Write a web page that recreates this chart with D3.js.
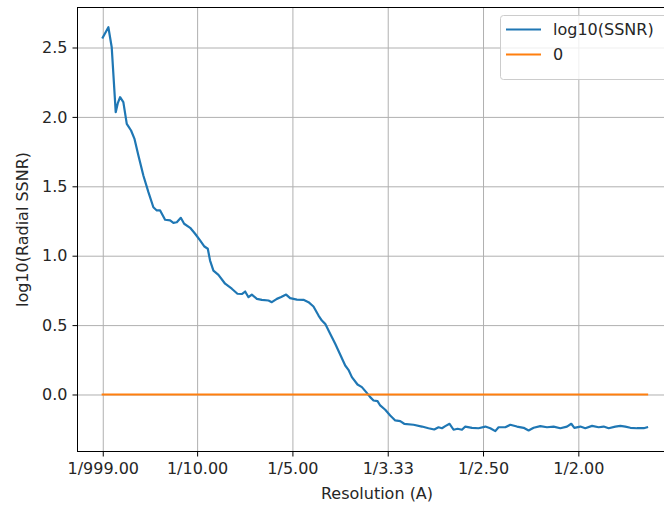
<!DOCTYPE html>
<html>
<head>
<meta charset="utf-8">
<script src="https://cdn.jsdelivr.net/npm/d3@7"></script>
<style>
  html, body { margin: 0; padding: 0; background: #fff; }
  svg { display: block; font-family: "DejaVu Sans", sans-serif; }
</style>
</head>
<body>
<svg id="chart" width="664" height="506"></svg>
<script>
// ---- data (spatial frequency 1/A, log10 radial SSNR) ----
const frequency = [0.001,0.0069,0.0104,0.0146,0.0167,0.0192,0.0226,0.0262,0.0307,0.0342,
  0.0384,0.0436,0.0489,0.0541,0.0577,0.0612,0.0664,0.0717,0.0751,0.0787,
  0.0829,0.0864,0.0927,0.0979,0.1031,0.1077,0.1112,0.1136,0.1171,0.1224,
  0.1294,0.1364,0.1423,0.1469,0.1504,0.1539,0.1574,0.1627,0.1679,0.1749,
  0.1784,0.1837,0.1882,0.1934,0.1976,0.2047,0.2116,0.2169,0.2221,0.2274,
  0.2309,0.2344,0.2396,0.2449,0.2501,0.2554,0.2588,0.2624,0.2683,0.2729,
  0.2774,0.2816,0.2851,0.2893,0.2921,0.2974,0.3026,0.3079,0.3131,0.3173,
  0.3271,0.3359,0.3428,0.3488,0.3533,0.3569,0.3604,0.3649,0.3691,0.3733,
  0.3779,0.3814,0.3884,0.3953,0.4024,0.4076,0.4129,0.4163,0.4234,0.4286,
  0.4356,0.4426,0.4478,0.4531,0.4601,0.4671,0.4741,0.4811,0.4881,0.4926,
  0.4958,0.5021,0.5073,0.5144,0.5213,0.5266,0.5318,0.5388,0.5441,0.5493,
  0.5546,0.5616,0.5686,0.5721];
const log10SSNR = [2.572,2.646,2.502,2.034,2.097,2.142,2.106,1.950,1.902,1.844,
  1.722,1.578,1.458,1.349,1.326,1.326,1.259,1.254,1.237,1.241,
  1.273,1.230,1.201,1.158,1.110,1.066,1.050,0.965,0.893,0.862,
  0.798,0.762,0.726,0.724,0.742,0.701,0.720,0.689,0.682,0.677,
  0.665,0.689,0.702,0.720,0.694,0.684,0.682,0.665,0.634,0.569,
  0.533,0.509,0.437,0.365,0.288,0.209,0.178,0.125,0.072,0.053,
  0.017,-0.019,-0.043,-0.048,-0.079,-0.110,-0.151,-0.187,-0.192,-0.211,
  -0.218,-0.231,-0.243,-0.252,-0.236,-0.243,-0.228,-0.211,-0.254,-0.247,
  -0.254,-0.231,-0.240,-0.243,-0.231,-0.243,-0.264,-0.236,-0.236,-0.218,
  -0.231,-0.240,-0.259,-0.240,-0.228,-0.236,-0.231,-0.243,-0.231,-0.211,
  -0.240,-0.231,-0.243,-0.226,-0.236,-0.231,-0.243,-0.231,-0.226,-0.231,
  -0.240,-0.243,-0.243,-0.236];
const zeroLine = frequency.map(() => 0);
const seriesNames = ["log10(SSNR)", "0"];
const xTickValues = [0.001, 0.1, 0.2, 0.3, 0.4, 0.5];
const xTickLabels = ["1/999.00", "1/10.00", "1/5.00", "1/3.33", "1/2.50", "1/2.00"];
const yTickValues = [0, 0.5, 1.0, 1.5, 2.0, 2.5];
const yTickLabels = ["0.0", "0.5", "1.0", "1.5", "2.0", "2.5"];
const xLabel = "Resolution (A)";
const yLabel = "log10(Radial SSNR)";

// ---- layout ----
const mLeft = 77.5, mRight = 676.5, mTop = 7.5, mBottom = 451.5;
const colors = ["#1f77b4", "#ff7f0e"];
const FS = 16;

const svg = d3.select("#chart");
const x = d3.scaleLinear().domain([-0.0255, 0.6030]).range([mLeft, mRight]);
const y = d3.scaleLinear().domain([-0.4107, 2.7882]).range([mBottom, mTop]);

// grid
const gx = svg.append("g").attr("transform", `translate(0,${mBottom})`)
  .call(d3.axisBottom(x).tickValues(xTickValues).tickSize(-(mBottom - mTop)).tickFormat(""));
const gy = svg.append("g").attr("transform", `translate(${mLeft},0)`)
  .call(d3.axisLeft(y).tickValues(yTickValues).tickSize(-(mRight - mLeft)).tickFormat(""));
[gx, gy].forEach(g => {
  g.select(".domain").remove();
  g.selectAll("line").attr("stroke", "#b0b0b0").attr("stroke-width", 1);
});

// lines
const lineGen = d3.line().x((d, i) => x(frequency[i])).y(d => y(d));
svg.append("path").datum(log10SSNR).attr("d", lineGen)
  .attr("fill", "none").attr("stroke", colors[0]).attr("stroke-width", 2.2)
  .attr("stroke-linejoin", "round").attr("stroke-linecap", "square");
svg.append("path").datum(zeroLine).attr("d", lineGen)
  .attr("fill", "none").attr("stroke", colors[1]).attr("stroke-width", 2.2)
  .attr("stroke-linecap", "square");

// spines
svg.append("rect").attr("x", mLeft).attr("y", mTop)
  .attr("width", mRight - mLeft).attr("height", mBottom - mTop)
  .attr("fill", "none").attr("stroke", "#000").attr("stroke-width", 1);

// axes
const ax = svg.append("g").attr("transform", `translate(0,${mBottom})`)
  .call(d3.axisBottom(x).tickValues(xTickValues).tickSize(5).tickPadding(6)
    .tickFormat((d, i) => xTickLabels[i]));
const ay = svg.append("g").attr("transform", `translate(${mLeft},0)`)
  .call(d3.axisLeft(y).tickValues(yTickValues).tickSize(5).tickPadding(5)
    .tickFormat((d, i) => yTickLabels[i]));
[ax, ay].forEach(g => {
  g.select(".domain").remove();
  g.selectAll("line").attr("stroke", "#000").attr("stroke-width", 1);
  g.selectAll("text").attr("font-size", FS).attr("fill", "#262626")
    .attr("font-family", "DejaVu Sans, sans-serif");
});

// axis labels
svg.append("text").attr("x", (mLeft + mRight) / 2).attr("y", 499)
  .attr("text-anchor", "middle").attr("font-size", FS).attr("fill", "#262626")
  .text(xLabel);
svg.append("text").attr("transform", `translate(28,${(mTop + mBottom) / 2}) rotate(-90)`)
  .attr("text-anchor", "middle").attr("font-size", FS).attr("fill", "#262626")
  .text(yLabel);

// legend
const lg = svg.append("g");
lg.append("rect").attr("x", 500.5).attr("y", 15.5).attr("width", 168).attr("height", 64)
  .attr("rx", 3).attr("fill", "#fff").attr("fill-opacity", 0.8)
  .attr("stroke", "#cccccc").attr("stroke-width", 1);
seriesNames.forEach((name, i) => {
  const yy = 29.5 + i * 25;
  lg.append("line").attr("x1", 506).attr("x2", 541).attr("y1", yy).attr("y2", yy)
    .attr("stroke", colors[i]).attr("stroke-width", 2.2);
  lg.append("text").attr("x", 553).attr("y", yy).attr("dy", "0.36em")
    .attr("font-size", FS).attr("fill", "#262626").text(name);
});
</script>
</body>
</html>
